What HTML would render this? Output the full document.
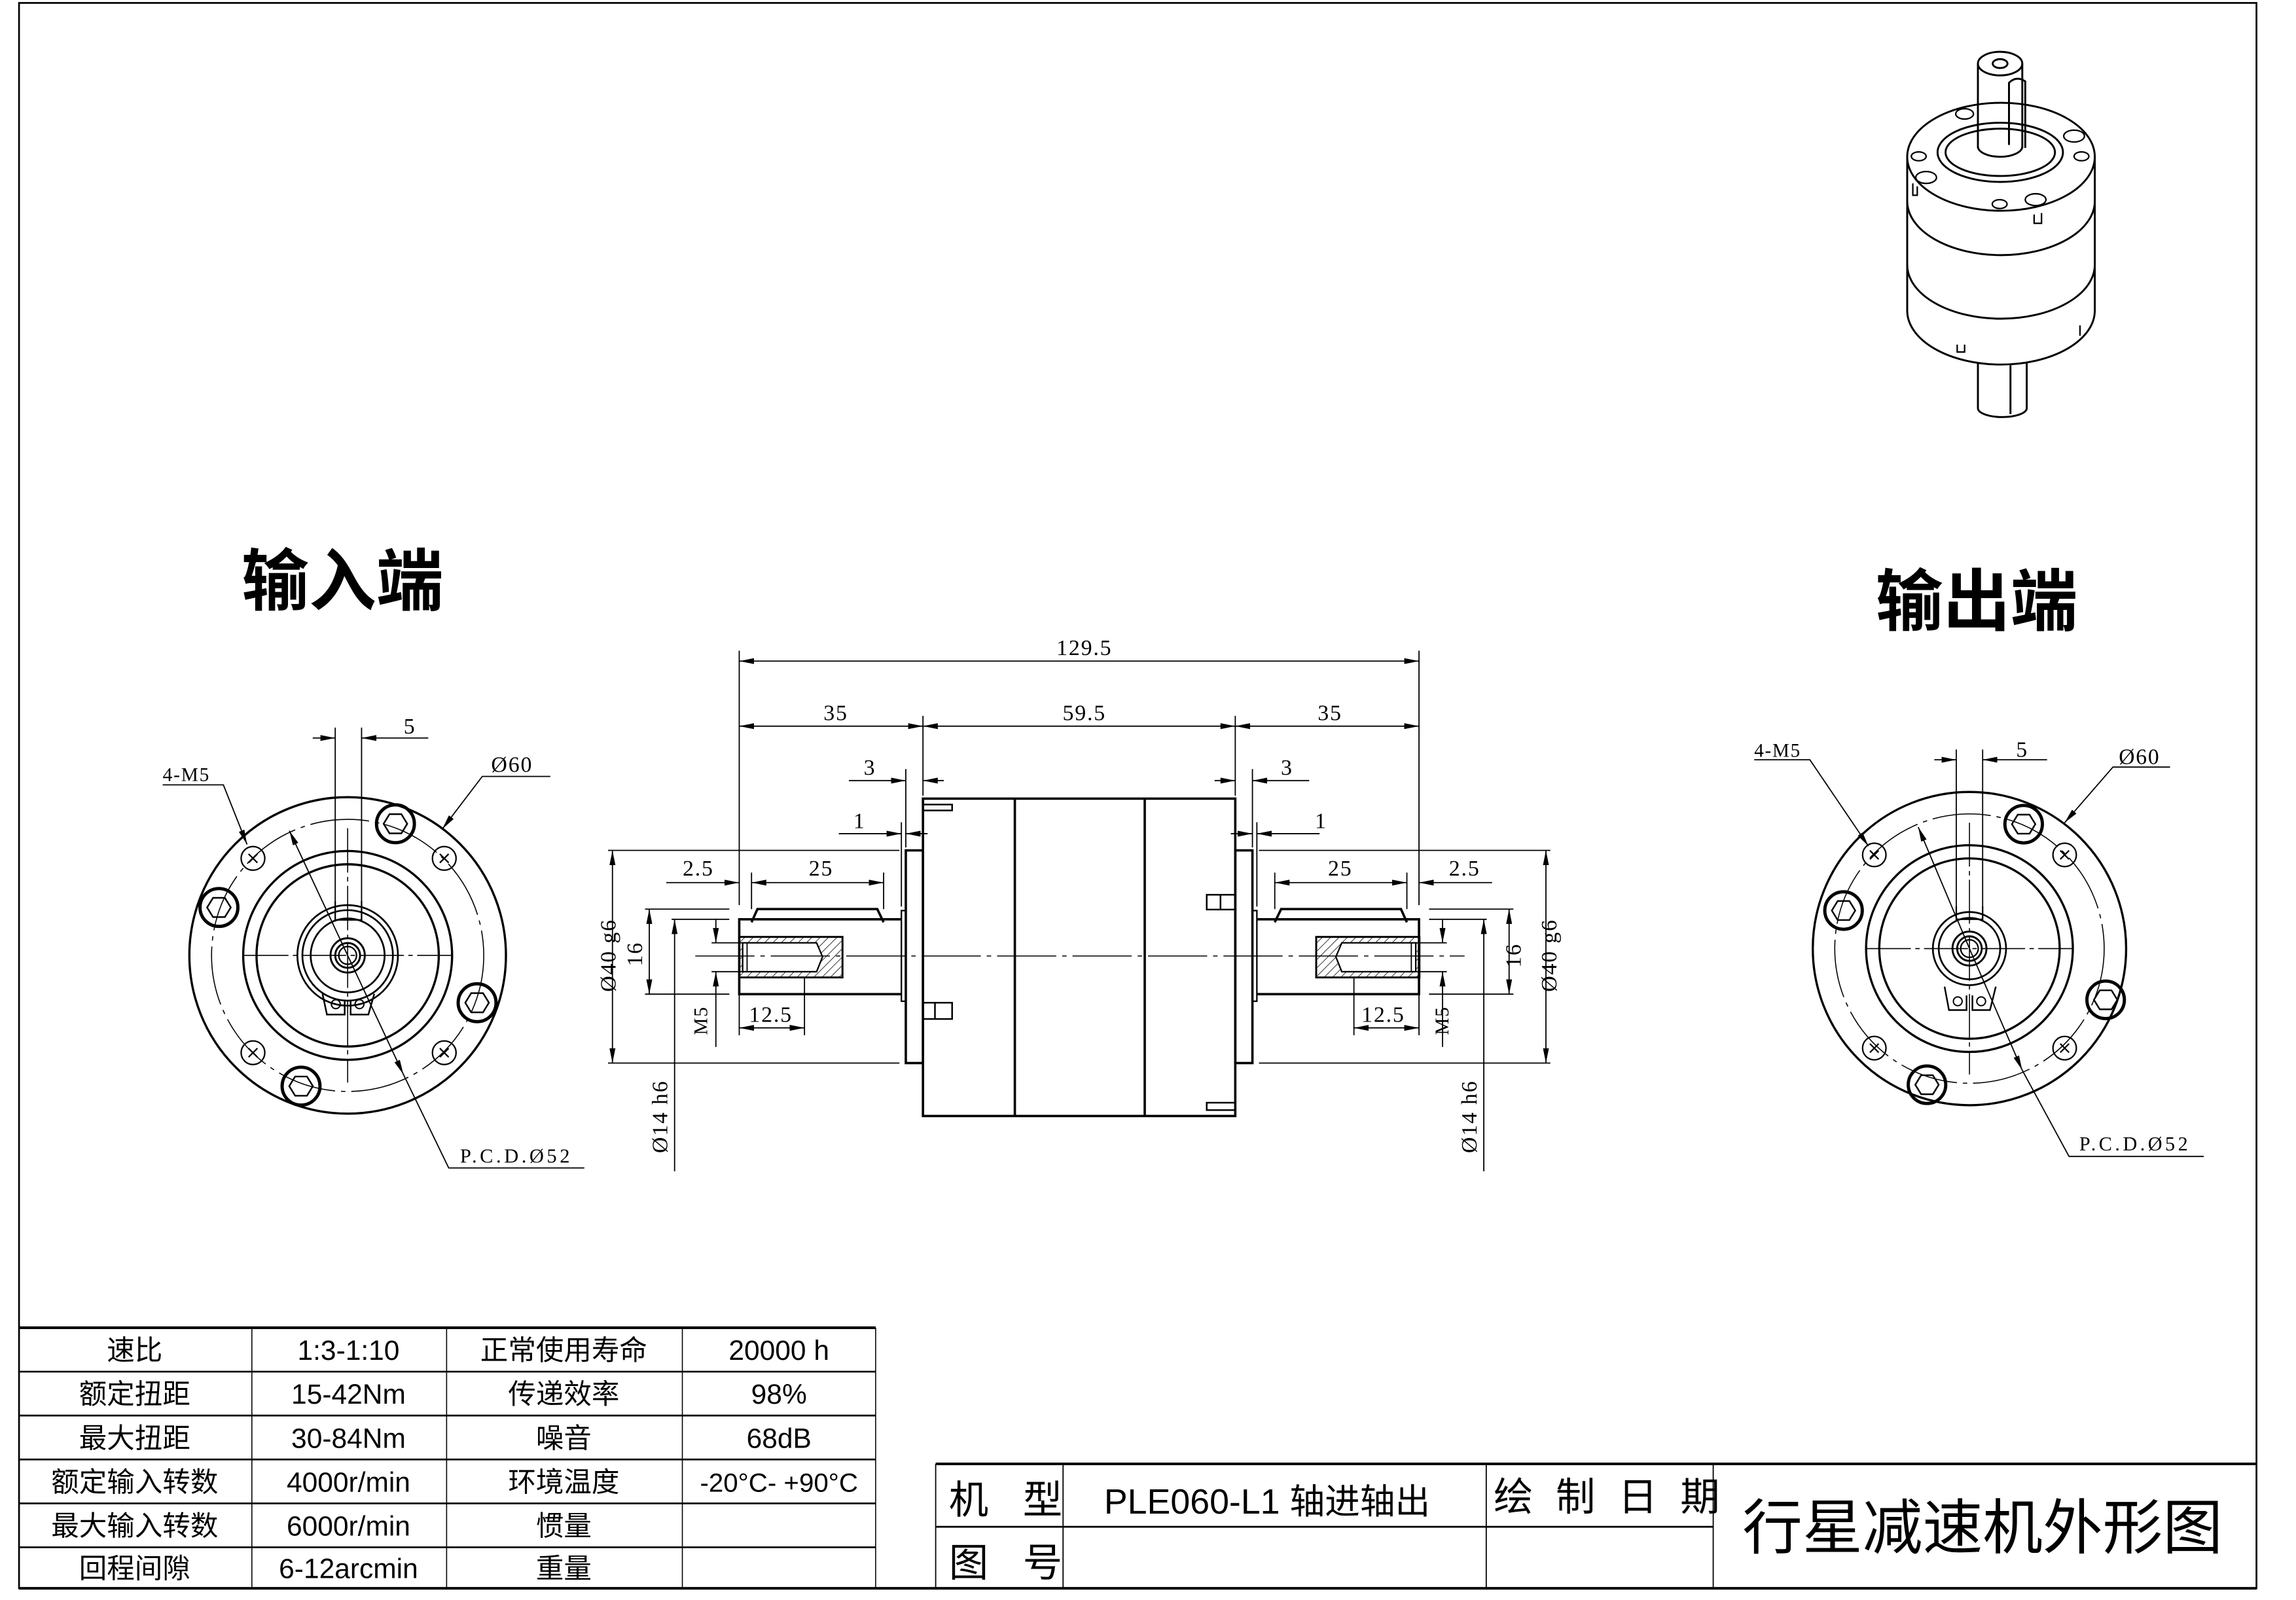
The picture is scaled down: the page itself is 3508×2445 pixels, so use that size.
<!DOCTYPE html>
<html><head><meta charset="utf-8"><style>
html,body{margin:0;padding:0;background:#fff}
svg{display:block}
.t{font-family:"Liberation Serif","Noto Serif CJK SC",serif;fill:#000}
.s{font-family:"Liberation Sans Narrow","Liberation Sans","Noto Sans CJK SC",sans-serif;fill:#000}
.c{font-family:"Liberation Sans","Noto Sans CJK SC",sans-serif;fill:#000}
</style></head><body>
<svg xmlns="http://www.w3.org/2000/svg" width="3508" height="2445" viewBox="0 0 1568 1093" preserveAspectRatio="none">
<defs>
<marker id="a" viewBox="0 0 10 4" refX="10" refY="2" markerWidth="10" markerHeight="4" markerUnits="userSpaceOnUse" orient="auto-start-reverse"><path d="M0,0 L10,2 L0,4z" fill="#000"/></marker>
<pattern id="h" width="4" height="4" patternUnits="userSpaceOnUse" patternTransform="rotate(45)"><line x1="0" y1="0" x2="0" y2="4" stroke="#000" stroke-width="0.7"/></pattern>
</defs>
<g fill="none" stroke="#000">
<rect x="13" y="2" width="1528" height="1083" stroke-width="1.2"/>

<g stroke-width="1.5">
<circle cx="1345" cy="648" r="107"/>
<circle cx="1345" cy="648" r="70.6"/>
<circle cx="1345" cy="648" r="61.6"/>
<circle cx="1345" cy="648" r="25" stroke-width="1.2"/>
<circle cx="1345" cy="648" r="21" stroke-width="1.2"/>
<circle cx="1345" cy="648" r="11.6" stroke-width="1.3"/>
<circle cx="1345" cy="648" r="8.4" stroke-width="1.3"/>
<circle cx="1345" cy="648" r="6" stroke-width="1"/>
</g>
<circle cx="1345" cy="648" r="92" stroke-width="0.7" stroke-dasharray="40 4 3 4"/>
<g stroke-width="0.7" stroke-dasharray="30 3 3 3">
<line x1="1275" y1="648" x2="1415" y2="648"/>
<line x1="1345" y1="562" x2="1345" y2="734"/>
</g>
<path d="M1336,619 V628 H1354 V619" stroke-width="1"/>
<path d="M1328,674 L1331,690 H1343 V680 M1347,680 V690 H1359 L1363,674" stroke-width="1.1"/>
<circle cx="1337" cy="684" r="3" stroke-width="0.9"/><circle cx="1353" cy="684" r="3" stroke-width="0.9"/>
<g stroke-width="1">
<circle cx="1280" cy="584" r="8"/><circle cx="1410" cy="584" r="8"/>
<circle cx="1280" cy="716" r="8"/><circle cx="1410" cy="716" r="8"/>
<path d="M1277,581 l6,6 m0,-6 l-6,6 M1407,581 l6,6 m0,-6 l-6,6 M1277,713 l6,6 m0,-6 l-6,6 M1407,713 l6,6 m0,-6 l-6,6"/>
</g>
<g stroke-width="2.2">
<circle cx="1382" cy="563" r="12.8"/><circle cx="1259" cy="622" r="12.8"/>
<circle cx="1438" cy="683" r="12.8"/><circle cx="1316" cy="741" r="12.8"/>
</g>
<g stroke-width="1.1">
<path d="M1374,563 l4,-6.5 h8 l4,6.5 l-4,6.5 h-8z"/>
<path d="M1251,622 l4,-6.5 h8 l4,6.5 l-4,6.5 h-8z"/>
<path d="M1430,683 l4,-6.5 h8 l4,6.5 l-4,6.5 h-8z"/>
<path d="M1308,741 l4,-6.5 h8 l4,6.5 l-4,6.5 h-8z"/>
</g>
<g stroke-width="0.8">
<line x1="1336" y1="512" x2="1336" y2="619"/>
<line x1="1354" y1="512" x2="1354" y2="619"/>
<line x1="1321" y1="519" x2="1336" y2="519" marker-end="url(#a)"/>
<line x1="1398" y1="519" x2="1354" y2="519" marker-end="url(#a)"/>
<polyline points="1198,519 1236,519 1276,578" marker-end="url(#a)"/>
<polyline points="1482,524 1443,524 1410,562" marker-end="url(#a)"/>
<line x1="1345" y1="648" x2="1310" y2="565" marker-end="url(#a)"/>
<line x1="1345" y1="648" x2="1381" y2="731" marker-end="url(#a)"/>
<polyline points="1381,731 1413,790 1505,790"/>
</g>

<g stroke-width="0.7">
<line x1="172" y1="907" x2="172" y2="1085"/>
<line x1="305" y1="907" x2="305" y2="1085"/>
<line x1="466" y1="907" x2="466" y2="1085"/>
<line x1="598" y1="907" x2="598" y2="1085"/>
</g>
<g stroke-width="1.8">
<line x1="13" y1="907" x2="598" y2="907"/>
<line x1="13" y1="937" x2="598" y2="937" stroke-width="1.2"/>
<line x1="13" y1="967" x2="598" y2="967" stroke-width="1.2"/>
<line x1="13" y1="997" x2="598" y2="997" stroke-width="1.2"/>
<line x1="13" y1="1027" x2="598" y2="1027" stroke-width="1.2"/>
<line x1="13" y1="1057" x2="598" y2="1057" stroke-width="1.2"/>
<line x1="13" y1="1085" x2="598" y2="1085"/>
</g>
<g stroke-width="0.8">
<line x1="639" y1="1000" x2="639" y2="1085"/>
<line x1="726" y1="1000" x2="726" y2="1085"/>
<line x1="1015" y1="1000" x2="1015" y2="1085"/>
<line x1="1170" y1="1000" x2="1170" y2="1085"/>
</g>
<line x1="639" y1="1000" x2="1541" y2="1000" stroke-width="1.8"/>
<line x1="639" y1="1043" x2="1170" y2="1043" stroke-width="1.2"/>
<line x1="598" y1="1085" x2="1541" y2="1085" stroke-width="1.8"/>
</g>

<g transform="scale(1.0103)">
<g fill="none" stroke="#000">
<g stroke-width="1.5">
<circle cx="235" cy="646" r="107"/>
<circle cx="235" cy="646" r="70.6"/>
<circle cx="235" cy="646" r="61.6"/>
<circle cx="235" cy="646" r="34" stroke-width="1.2"/>
<circle cx="235" cy="646" r="30.6" stroke-width="1.2"/>
<circle cx="235" cy="646" r="25" stroke-width="1.2"/>
<circle cx="235" cy="646" r="11.6" stroke-width="1.3"/>
<circle cx="235" cy="646" r="8.4" stroke-width="1.3"/>
<circle cx="235" cy="646" r="6" stroke-width="1"/>
</g>
<circle cx="235" cy="646" r="92" stroke-width="0.7" stroke-dasharray="40 4 3 4"/>
<g stroke-width="0.7" stroke-dasharray="30 3 3 3">
<line x1="165" y1="646" x2="305" y2="646"/>
<line x1="235" y1="560" x2="235" y2="732"/>
</g>
<path d="M226.6,609 V622 H244.4 V609" stroke-width="1"/>
<path d="M218,672 L221,686 H233 V676 M237,676 V686 H249 L253,672" stroke-width="1.1"/>
<circle cx="227" cy="679" r="3" stroke-width="0.9"/>
<circle cx="243" cy="679" r="3" stroke-width="0.9"/>
<g stroke-width="1">
<circle cx="171" cy="580.4" r="8"/><circle cx="300.3" cy="580.4" r="8"/>
<circle cx="171" cy="711.8" r="8"/><circle cx="300.3" cy="711.8" r="8"/>
<path d="M168,577.4 l6,6 m0,-6 l-6,6 M297.3,577.4 l6,6 m0,-6 l-6,6 M168,708.8 l6,6 m0,-6 l-6,6 M297.3,708.8 l6,6 m0,-6 l-6,6"/>
</g>
<g stroke-width="2.2">
<circle cx="267.3" cy="557" r="12.8"/><circle cx="148" cy="613.6" r="12.8"/>
<circle cx="322.5" cy="678" r="12.8"/><circle cx="203.5" cy="734.4" r="12.8"/>
</g>
<g stroke-width="1.1">
<path d="M259.3,557 l4,-6.5 h8 l4,6.5 l-4,6.5 h-8z"/>
<path d="M140,613.6 l4,-6.5 h8 l4,6.5 l-4,6.5 h-8z"/>
<path d="M314.5,678 l4,-6.5 h8 l4,6.5 l-4,6.5 h-8z"/>
<path d="M195.5,734.4 l4,-6.5 h8 l4,6.5 l-4,6.5 h-8z"/>
</g>
<g stroke-width="0.8">
<line x1="226.6" y1="492" x2="226.6" y2="609"/>
<line x1="244.4" y1="492" x2="244.4" y2="609"/>
<line x1="211.4" y1="499" x2="226.6" y2="499" marker-end="url(#a)"/>
<line x1="289.5" y1="499" x2="244.4" y2="499" marker-end="url(#a)"/>
<polyline points="110,530.7 151,530.7 167,571" marker-end="url(#a)"/>
<polyline points="372,525 326,525 299,560.5" marker-end="url(#a)"/>
<line x1="235" y1="646" x2="195.6" y2="561.7" marker-end="url(#a)"/>
<line x1="235" y1="646" x2="272.7" y2="726.5" marker-end="url(#a)"/>
<polyline points="272.7,726.5 303.3,789.7 395,789.7"/>
</g>

<g stroke-width="1.6">
<rect x="623.9" y="540" width="211.1" height="214.6"/>
<line x1="686" y1="540" x2="686" y2="754.6"/>
<line x1="773.8" y1="540" x2="773.8" y2="754.6"/>
<rect x="612.3" y="575" width="11.6" height="143.8"/>
<rect x="609.3" y="615.7" width="3" height="61.3" stroke-width="1"/>
<path d="M609.3,621.6 H499.7 V672.2 H609.3"/>
<path d="M508,623.6 L512,614.7 H593 L597.3,623.6"/>
<rect x="835" y="575" width="11.6" height="143.8"/>
<rect x="846.6" y="615.7" width="3" height="61.3" stroke-width="1"/>
<path d="M849.6,621.6 H959.2 V672.2 H849.6"/>
<path d="M951,623.6 L947,614.7 H866 L861.7,623.6"/>
</g>
<g stroke-width="1.1">
<rect x="623.9" y="544" width="19.7" height="4"/>
<rect x="623.9" y="678" width="19.7" height="11"/>
<line x1="632" y1="678" x2="632" y2="689"/>
<rect x="815.7" y="605" width="19.3" height="10"/>
<line x1="825" y1="605" x2="825" y2="615"/>
<rect x="815.7" y="745.6" width="19.3" height="5"/>
</g>
<rect x="499.7" y="633.5" width="69.8" height="27.4" fill="url(#h)" stroke-width="1.3"/>
<path d="M502,637.5 H552 L556,647 L552,657 H502z" fill="#fff" stroke-width="1"/>
<line x1="505" y1="637.5" x2="505" y2="657" stroke-width="0.8"/>
<rect x="889.7" y="633.5" width="69.8" height="27.4" fill="url(#h)" stroke-width="1.3"/>
<path d="M957,637.5 H907 L903,647 L907,657 H957z" fill="#fff" stroke-width="1"/>
<line x1="954" y1="637.5" x2="954" y2="657" stroke-width="0.8"/>
<line x1="470" y1="646.4" x2="990" y2="646.4" stroke-width="0.7" stroke-dasharray="40 4 3 4"/>

<g stroke-width="0.8">
<line x1="499.7" y1="440" x2="499.7" y2="612"/>
<line x1="959.2" y1="440" x2="959.2" y2="612"/>
<line x1="623.9" y1="484" x2="623.9" y2="538"/>
<line x1="835" y1="484" x2="835" y2="538"/>
<line x1="612.3" y1="520" x2="612.3" y2="573"/>
<line x1="846.6" y1="520" x2="846.6" y2="573"/>
<line x1="609.3" y1="556" x2="609.3" y2="613"/>
<line x1="849.6" y1="556" x2="849.6" y2="613"/>
<line x1="499.7" y1="447" x2="959.2" y2="447" marker-start="url(#a)" marker-end="url(#a)"/>
<line x1="499.7" y1="491" x2="623.9" y2="491" marker-start="url(#a)" marker-end="url(#a)"/>
<line x1="623.9" y1="491" x2="835" y2="491" marker-start="url(#a)" marker-end="url(#a)"/>
<line x1="835" y1="491" x2="959.2" y2="491" marker-start="url(#a)" marker-end="url(#a)"/>
<line x1="573.8" y1="527.8" x2="612.3" y2="527.8" marker-end="url(#a)"/>
<line x1="638" y1="527.8" x2="623.9" y2="527.8" marker-end="url(#a)"/>
<line x1="885" y1="527.8" x2="846.6" y2="527.8" marker-end="url(#a)"/>
<line x1="821" y1="527.8" x2="835" y2="527.8" marker-end="url(#a)"/>
<line x1="567" y1="563.7" x2="609.3" y2="563.7" marker-end="url(#a)"/>
<line x1="627" y1="563.7" x2="612.3" y2="563.7" marker-end="url(#a)"/>
<line x1="892" y1="563.7" x2="849.6" y2="563.7" marker-end="url(#a)"/>
<line x1="832" y1="563.7" x2="846.6" y2="563.7" marker-end="url(#a)"/>
<line x1="411" y1="575" x2="608" y2="575"/>
<line x1="411" y1="718.8" x2="608" y2="718.8"/>
<line x1="414" y1="575" x2="414" y2="718.8" marker-start="url(#a)" marker-end="url(#a)"/>
<line x1="436" y1="614.7" x2="493" y2="614.7"/>
<line x1="436" y1="672.2" x2="493" y2="672.2"/>
<line x1="438.9" y1="614.7" x2="438.9" y2="672.2" marker-start="url(#a)" marker-end="url(#a)"/>
<line x1="454" y1="621.6" x2="493" y2="621.6"/>
<line x1="456" y1="621.6" x2="456" y2="792" marker-start="url(#a)"/>
<line x1="481" y1="637.5" x2="502" y2="637.5"/>
<line x1="481" y1="657" x2="502" y2="657"/>
<line x1="483.9" y1="622" x2="483.9" y2="637.5" marker-end="url(#a)"/>
<line x1="483.9" y1="707.9" x2="483.9" y2="657" marker-end="url(#a)"/>
<line x1="508" y1="590" x2="508" y2="614.7"/>
<line x1="597.3" y1="590" x2="597.3" y2="614.7"/>
<line x1="450.4" y1="596.8" x2="499.7" y2="596.8" marker-end="url(#a)"/>
<line x1="508" y1="596.8" x2="597.3" y2="596.8" marker-start="url(#a)" marker-end="url(#a)"/>
<line x1="499.7" y1="672.2" x2="499.7" y2="700"/>
<line x1="543.8" y1="661" x2="543.8" y2="700"/>
<line x1="499.7" y1="695" x2="543.8" y2="695" marker-start="url(#a)" marker-end="url(#a)"/>
<line x1="851" y1="575" x2="1048" y2="575"/>
<line x1="851" y1="718.8" x2="1048" y2="718.8"/>
<line x1="1045" y1="575" x2="1045" y2="718.8" marker-start="url(#a)" marker-end="url(#a)"/>
<line x1="966" y1="614.7" x2="1023" y2="614.7"/>
<line x1="966" y1="672.2" x2="1023" y2="672.2"/>
<line x1="1020.1" y1="614.7" x2="1020.1" y2="672.2" marker-start="url(#a)" marker-end="url(#a)"/>
<line x1="966" y1="621.6" x2="1005" y2="621.6"/>
<line x1="1003" y1="621.6" x2="1003" y2="792" marker-start="url(#a)"/>
<line x1="957" y1="637.5" x2="978" y2="637.5"/>
<line x1="957" y1="657" x2="978" y2="657"/>
<line x1="975.1" y1="622" x2="975.1" y2="637.5" marker-end="url(#a)"/>
<line x1="975.1" y1="707.9" x2="975.1" y2="657" marker-end="url(#a)"/>
<line x1="951" y1="590" x2="951" y2="614.7"/>
<line x1="861.7" y1="590" x2="861.7" y2="614.7"/>
<line x1="1008.6" y1="596.8" x2="959.2" y2="596.8" marker-end="url(#a)"/>
<line x1="861.7" y1="596.8" x2="951" y2="596.8" marker-start="url(#a)" marker-end="url(#a)"/>
<line x1="959.2" y1="672.2" x2="959.2" y2="700"/>
<line x1="915.2" y1="661" x2="915.2" y2="700"/>
<line x1="915.2" y1="695" x2="959.2" y2="695" marker-start="url(#a)" marker-end="url(#a)"/>
</g>

<g stroke-width="1.3" fill="#fff">
<path d="M1289.2,106 V210 A63.4,36.5 0 0 0 1416,210 V106"/>
<path d="M1289.2,136 A63.4,36.5 0 0 0 1416,136" fill="none"/>
<path d="M1289.2,179 A63.4,36.5 0 0 0 1416,179" fill="none"/>
<ellipse cx="1352.6" cy="106" rx="63.4" ry="36.5"/>
<ellipse cx="1352.1" cy="103" rx="42.4" ry="20"/>
<ellipse cx="1352.1" cy="103" rx="37" ry="16" fill="none"/>
<path d="M1337,100 V43 M1367,43 V100" fill="none"/>
<path d="M1337,99 A15,7 0 0 0 1367,99" fill="none"/>
<ellipse cx="1352" cy="43" rx="15" ry="8"/>
<ellipse cx="1352" cy="43" rx="5" ry="3" fill="none"/>
<path d="M1358,98 V56 Q1363,51 1369,55 V100" fill="none"/>
<path d="M1337,245 V276 A16.5,6 0 0 0 1370,276 V245" fill="none"/>
<path d="M1359,247 V280" fill="none"/>
</g>
<g stroke-width="1" fill="none">
<ellipse cx="1297" cy="105.7" rx="5" ry="3"/>
<ellipse cx="1407" cy="105.7" rx="5" ry="3"/>
<ellipse cx="1351.7" cy="138" rx="5" ry="3"/>
<ellipse cx="1328" cy="77" rx="6" ry="3.5"/>
<ellipse cx="1302" cy="120" rx="7" ry="4"/>
<ellipse cx="1376" cy="135" rx="7" ry="4"/>
<ellipse cx="1402" cy="92" rx="7" ry="4"/>
<path d="M1293,124 V132 H1296 V126 M1375,145 V151 H1380 V144 M1406,220 V227 M1323,233 V238 H1328 V233"/>
</g>
</g>

<g class="t" font-size="15" letter-spacing="0.8">
<text x="733" y="443" text-anchor="middle">129.5</text>
<text x="565" y="487" text-anchor="middle">35</text>
<text x="733" y="487" text-anchor="middle">59.5</text>
<text x="899" y="487" text-anchor="middle">35</text>
<text x="588" y="524" text-anchor="middle">3</text>
<text x="870" y="524" text-anchor="middle">3</text>
<text x="581" y="560" text-anchor="middle">1</text>
<text x="893" y="560" text-anchor="middle">1</text>
<text x="472" y="592" text-anchor="middle">2.5</text>
<text x="555" y="592" text-anchor="middle">25</text>
<text x="906" y="592" text-anchor="middle">25</text>
<text x="990" y="592" text-anchor="middle">2.5</text>
<text x="521" y="691" text-anchor="middle">12.5</text>
<text x="935" y="691" text-anchor="middle">12.5</text>
<text transform="translate(416,646) rotate(-90)" text-anchor="middle">Ø40 g6</text>
<text transform="translate(434,645) rotate(-90)" text-anchor="middle">16</text>
<text transform="translate(451,755) rotate(-90)" text-anchor="middle">Ø14 h6</text>
<text transform="translate(478,690) rotate(-90)" text-anchor="middle" font-size="13">M5</text>
<text transform="translate(1052,646) rotate(-90)" text-anchor="middle">Ø40 g6</text>
<text transform="translate(1028,646) rotate(-90)" text-anchor="middle">16</text>
<text transform="translate(998,755) rotate(-90)" text-anchor="middle">Ø14 h6</text>
<text transform="translate(979,690) rotate(-90)" text-anchor="middle" font-size="13">M5</text>
<text x="277" y="496" text-anchor="middle">5</text>
<text x="110" y="528" font-size="13">4-M5</text>
<text x="332" y="522">Ø60</text>
<text x="311" y="786" font-size="13.5" letter-spacing="2">P.C.D.Ø52</text>
</g>
</g>

<g class="t" font-size="15" letter-spacing="0.8">
<text x="1381" y="517" text-anchor="middle">5</text>
<text x="1198" y="517" font-size="13">4-M5</text>
<text x="1447" y="522">Ø60</text>
<text x="1420" y="786" font-size="13.5" letter-spacing="2">P.C.D.Ø52</text>
</g>
<g class="c" font-weight="bold" font-size="46">
<text x="165" y="413">输入端</text>
<text x="1281" y="427">输出端</text>
</g>
<g class="s" font-size="19" text-anchor="middle">
<text x="92" y="929">速比</text><text x="238" y="929">1:3-1:10</text><text x="385" y="929">正常使用寿命</text><text x="532" y="929">20000 h</text>
<text x="92" y="959">额定扭距</text><text x="238" y="959">15-42Nm</text><text x="385" y="959">传递效率</text><text x="532" y="959">98%</text>
<text x="92" y="989">最大扭距</text><text x="238" y="989">30-84Nm</text><text x="385" y="989">噪音</text><text x="532" y="989">68dB</text>
<text x="92" y="1019">额定输入转数</text><text x="238" y="1019">4000r/min</text><text x="385" y="1019">环境温度</text><text x="532" y="1019" font-size="18">-20°C- +90°C</text>
<text x="92" y="1049">最大输入转数</text><text x="238" y="1049">6000r/min</text><text x="385" y="1049">惯量</text>
<text x="92" y="1078">回程间隙</text><text x="238" y="1078">6-12arcmin</text><text x="385" y="1078">重量</text>
</g>
<g class="c">
<text x="648" y="1034" font-size="27" letter-spacing="8">机 型</text>
<text x="648" y="1077" font-size="27" letter-spacing="8">图 号</text>
<text x="754" y="1034" font-size="24">PLE060-L1 轴进轴出</text>
<text x="1020" y="1032" font-size="27" letter-spacing="4">绘 制 日 期</text>
<text x="1190" y="1058" font-size="41">行星减速机外形图</text>
</g>
</svg>
</body></html>
